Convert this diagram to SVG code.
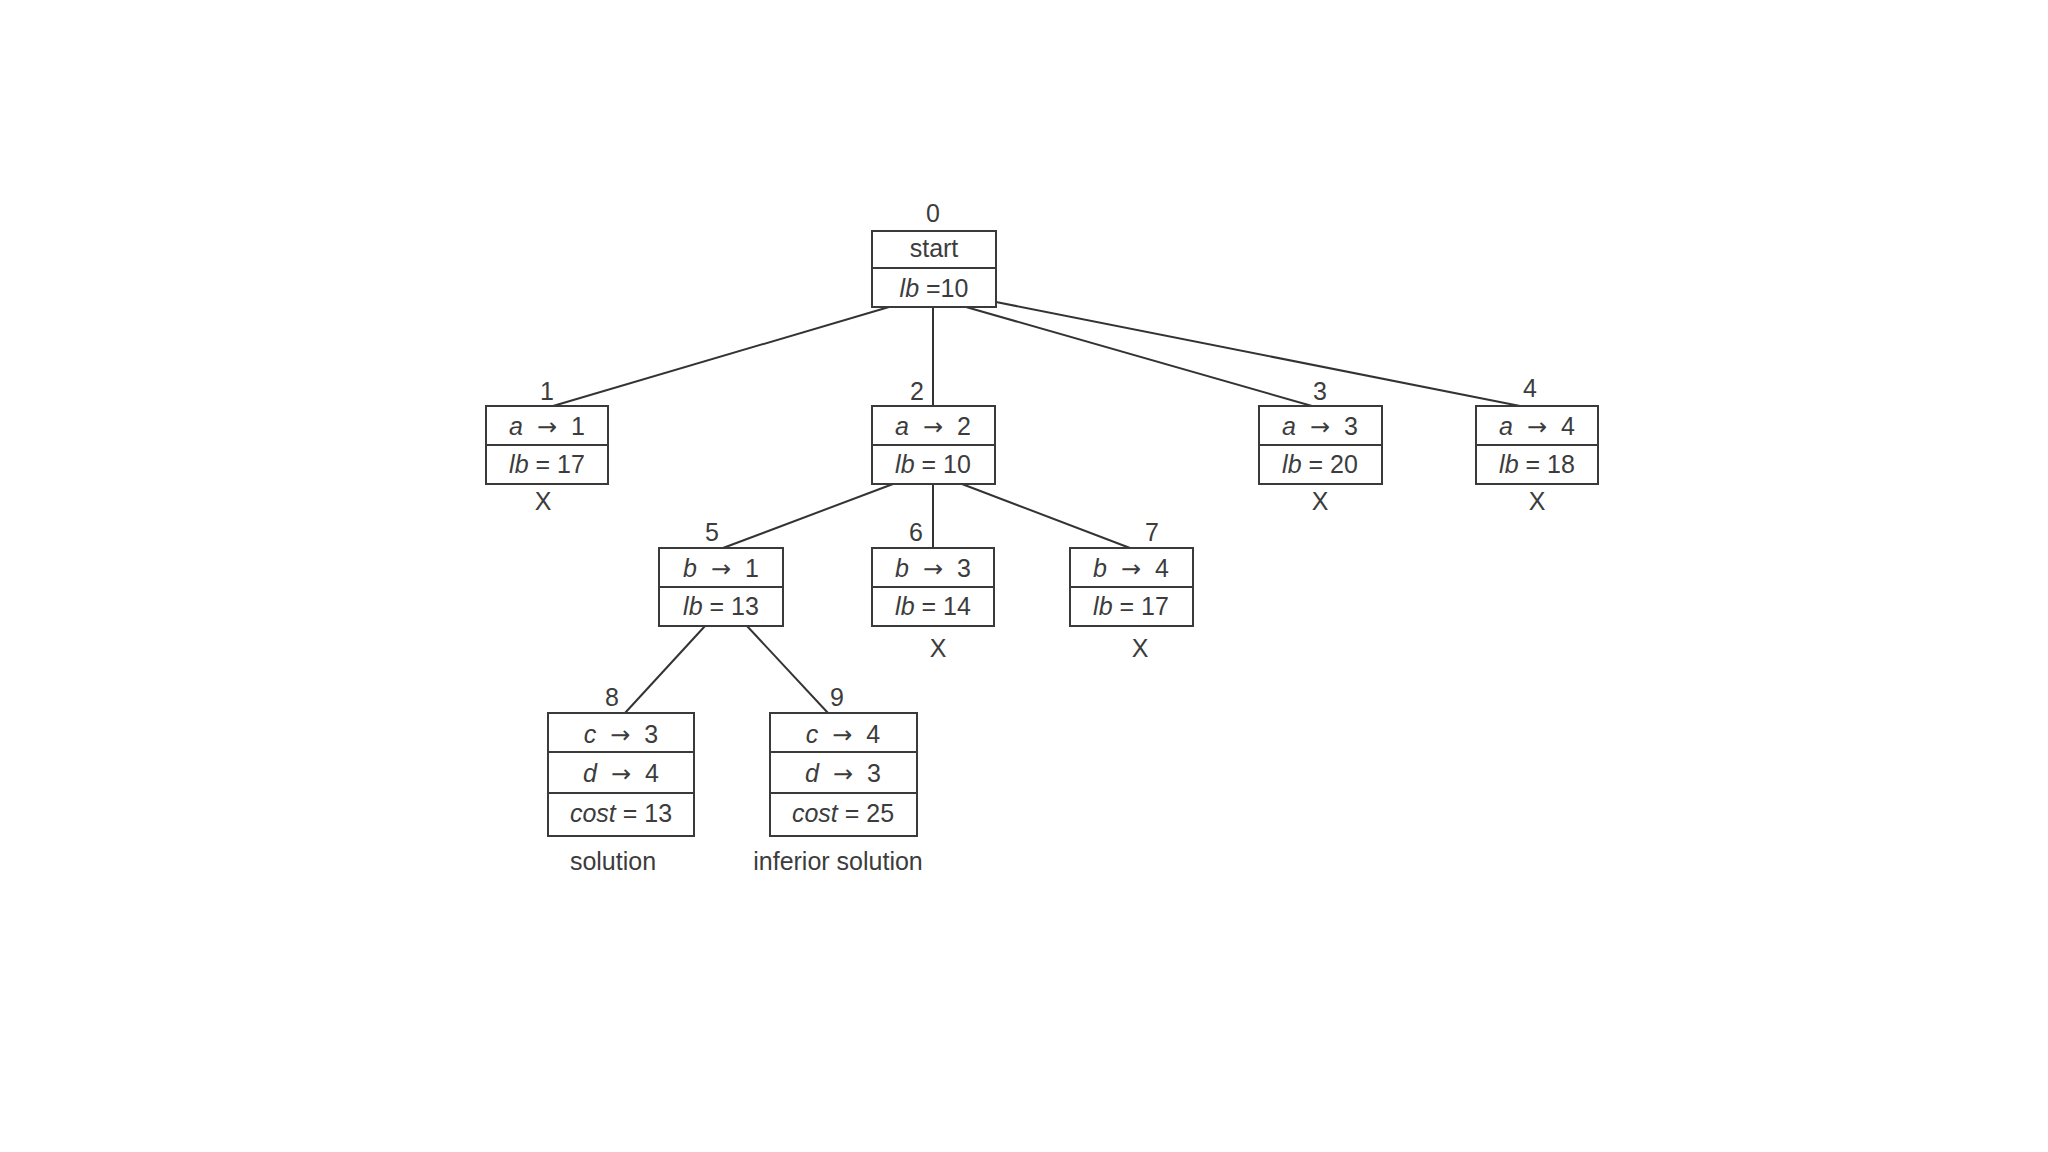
<svg xmlns="http://www.w3.org/2000/svg" width="2048" height="1152" viewBox="0 0 2048 1152">
<style>
.bg{fill:#ffffff}
.box{fill:#ffffff;stroke:#3a3a3a;stroke-width:2}
.div{stroke:#3a3a3a;stroke-width:2}
.edge{stroke:#333333;stroke-width:2;fill:none}
text{font-family:"Liberation Sans",Arial,sans-serif;font-size:25px;fill:#3c3c3c;text-anchor:middle}
.i{font-style:italic}
.ar{font-family:"DejaVu Sans",sans-serif;font-size:24px}
</style>
<rect class="bg" x="0" y="0" width="2048" height="1152"/>
<g id="connectors">
<line class="edge" x1="889" y1="307" x2="553" y2="406"/>
<line class="edge" x1="933" y1="307" x2="933" y2="406"/>
<line class="edge" x1="966" y1="307" x2="1312" y2="406"/>
<line class="edge" x1="996" y1="302" x2="1520" y2="406"/>
<line class="edge" x1="893" y1="484" x2="723" y2="548"/>
<line class="edge" x1="933" y1="484" x2="933" y2="548"/>
<line class="edge" x1="962" y1="484" x2="1130" y2="548"/>
<line class="edge" x1="705" y1="626" x2="625" y2="713"/>
<line class="edge" x1="747" y1="626" x2="828" y2="713"/>
</g>
<g id="node0">
<text x="933" y="222">0</text>
<rect class="box" x="872" y="231" width="124" height="76"/>
<line class="div" x1="872" y1="268" x2="996" y2="268"/>
<text x="934" y="257">start</text>
<text x="934" y="297"><tspan class="i">lb</tspan> =10</text>
</g>
<g id="node1">
<text x="547" y="400">1</text>
<rect class="box" x="486" y="406" width="122" height="78"/>
<line class="div" x1="486" y1="445" x2="608" y2="445"/>
<text x="547" y="435"><tspan class="i">a</tspan><tspan class="ar" dx="14">→</tspan><tspan dx="14">1</tspan></text>
<text x="547" y="473"><tspan class="i">lb</tspan> = 17</text>
<text x="543" y="510">X</text>
</g>
<g id="node2">
<text x="917" y="400">2</text>
<rect class="box" x="872" y="406" width="123" height="78"/>
<line class="div" x1="872" y1="445" x2="995" y2="445"/>
<text x="933" y="435"><tspan class="i">a</tspan><tspan class="ar" dx="14">→</tspan><tspan dx="14">2</tspan></text>
<text x="933" y="473"><tspan class="i">lb</tspan> = 10</text>
</g>
<g id="node3">
<text x="1320" y="400">3</text>
<rect class="box" x="1259" y="406" width="123" height="78"/>
<line class="div" x1="1259" y1="445" x2="1382" y2="445"/>
<text x="1320" y="435"><tspan class="i">a</tspan><tspan class="ar" dx="14">→</tspan><tspan dx="14">3</tspan></text>
<text x="1320" y="473"><tspan class="i">lb</tspan> = 20</text>
<text x="1320" y="510">X</text>
</g>
<g id="node4">
<text x="1530" y="397">4</text>
<rect class="box" x="1476" y="406" width="122" height="78"/>
<line class="div" x1="1476" y1="445" x2="1598" y2="445"/>
<text x="1537" y="435"><tspan class="i">a</tspan><tspan class="ar" dx="14">→</tspan><tspan dx="14">4</tspan></text>
<text x="1537" y="473"><tspan class="i">lb</tspan> = 18</text>
<text x="1537" y="510">X</text>
</g>
<g id="node5">
<text x="712" y="541">5</text>
<rect class="box" x="659" y="548" width="124" height="78"/>
<line class="div" x1="659" y1="587" x2="783" y2="587"/>
<text x="721" y="577"><tspan class="i">b</tspan><tspan class="ar" dx="14">→</tspan><tspan dx="14">1</tspan></text>
<text x="721" y="615"><tspan class="i">lb</tspan> = 13</text>
</g>
<g id="node6">
<text x="916" y="541">6</text>
<rect class="box" x="872" y="548" width="122" height="78"/>
<line class="div" x1="872" y1="587" x2="994" y2="587"/>
<text x="933" y="577"><tspan class="i">b</tspan><tspan class="ar" dx="14">→</tspan><tspan dx="14">3</tspan></text>
<text x="933" y="615"><tspan class="i">lb</tspan> = 14</text>
<text x="938" y="657">X</text>
</g>
<g id="node7">
<text x="1152" y="541">7</text>
<rect class="box" x="1070" y="548" width="123" height="78"/>
<line class="div" x1="1070" y1="587" x2="1193" y2="587"/>
<text x="1131" y="577"><tspan class="i">b</tspan><tspan class="ar" dx="14">→</tspan><tspan dx="14">4</tspan></text>
<text x="1131" y="615"><tspan class="i">lb</tspan> = 17</text>
<text x="1140" y="657">X</text>
</g>
<g id="node8">
<text x="612" y="706">8</text>
<rect class="box" x="548" y="713" width="146" height="123"/>
<line class="div" x1="548" y1="752" x2="694" y2="752"/>
<line class="div" x1="548" y1="793" x2="694" y2="793"/>
<text x="621" y="743"><tspan class="i">c</tspan><tspan class="ar" dx="14">→</tspan><tspan dx="14">3</tspan></text>
<text x="621" y="782"><tspan class="i">d</tspan><tspan class="ar" dx="14">→</tspan><tspan dx="14">4</tspan></text>
<text x="621" y="822"><tspan class="i">cost</tspan> = 13</text>
<text x="613" y="870">solution</text>
</g>
<g id="node9">
<text x="837" y="706">9</text>
<rect class="box" x="770" y="713" width="147" height="123"/>
<line class="div" x1="770" y1="752" x2="917" y2="752"/>
<line class="div" x1="770" y1="793" x2="917" y2="793"/>
<text x="843" y="743"><tspan class="i">c</tspan><tspan class="ar" dx="14">→</tspan><tspan dx="14">4</tspan></text>
<text x="843" y="782"><tspan class="i">d</tspan><tspan class="ar" dx="14">→</tspan><tspan dx="14">3</tspan></text>
<text x="843" y="822"><tspan class="i">cost</tspan> = 25</text>
<text x="838" y="870">inferior solution</text>
</g>
</svg>
